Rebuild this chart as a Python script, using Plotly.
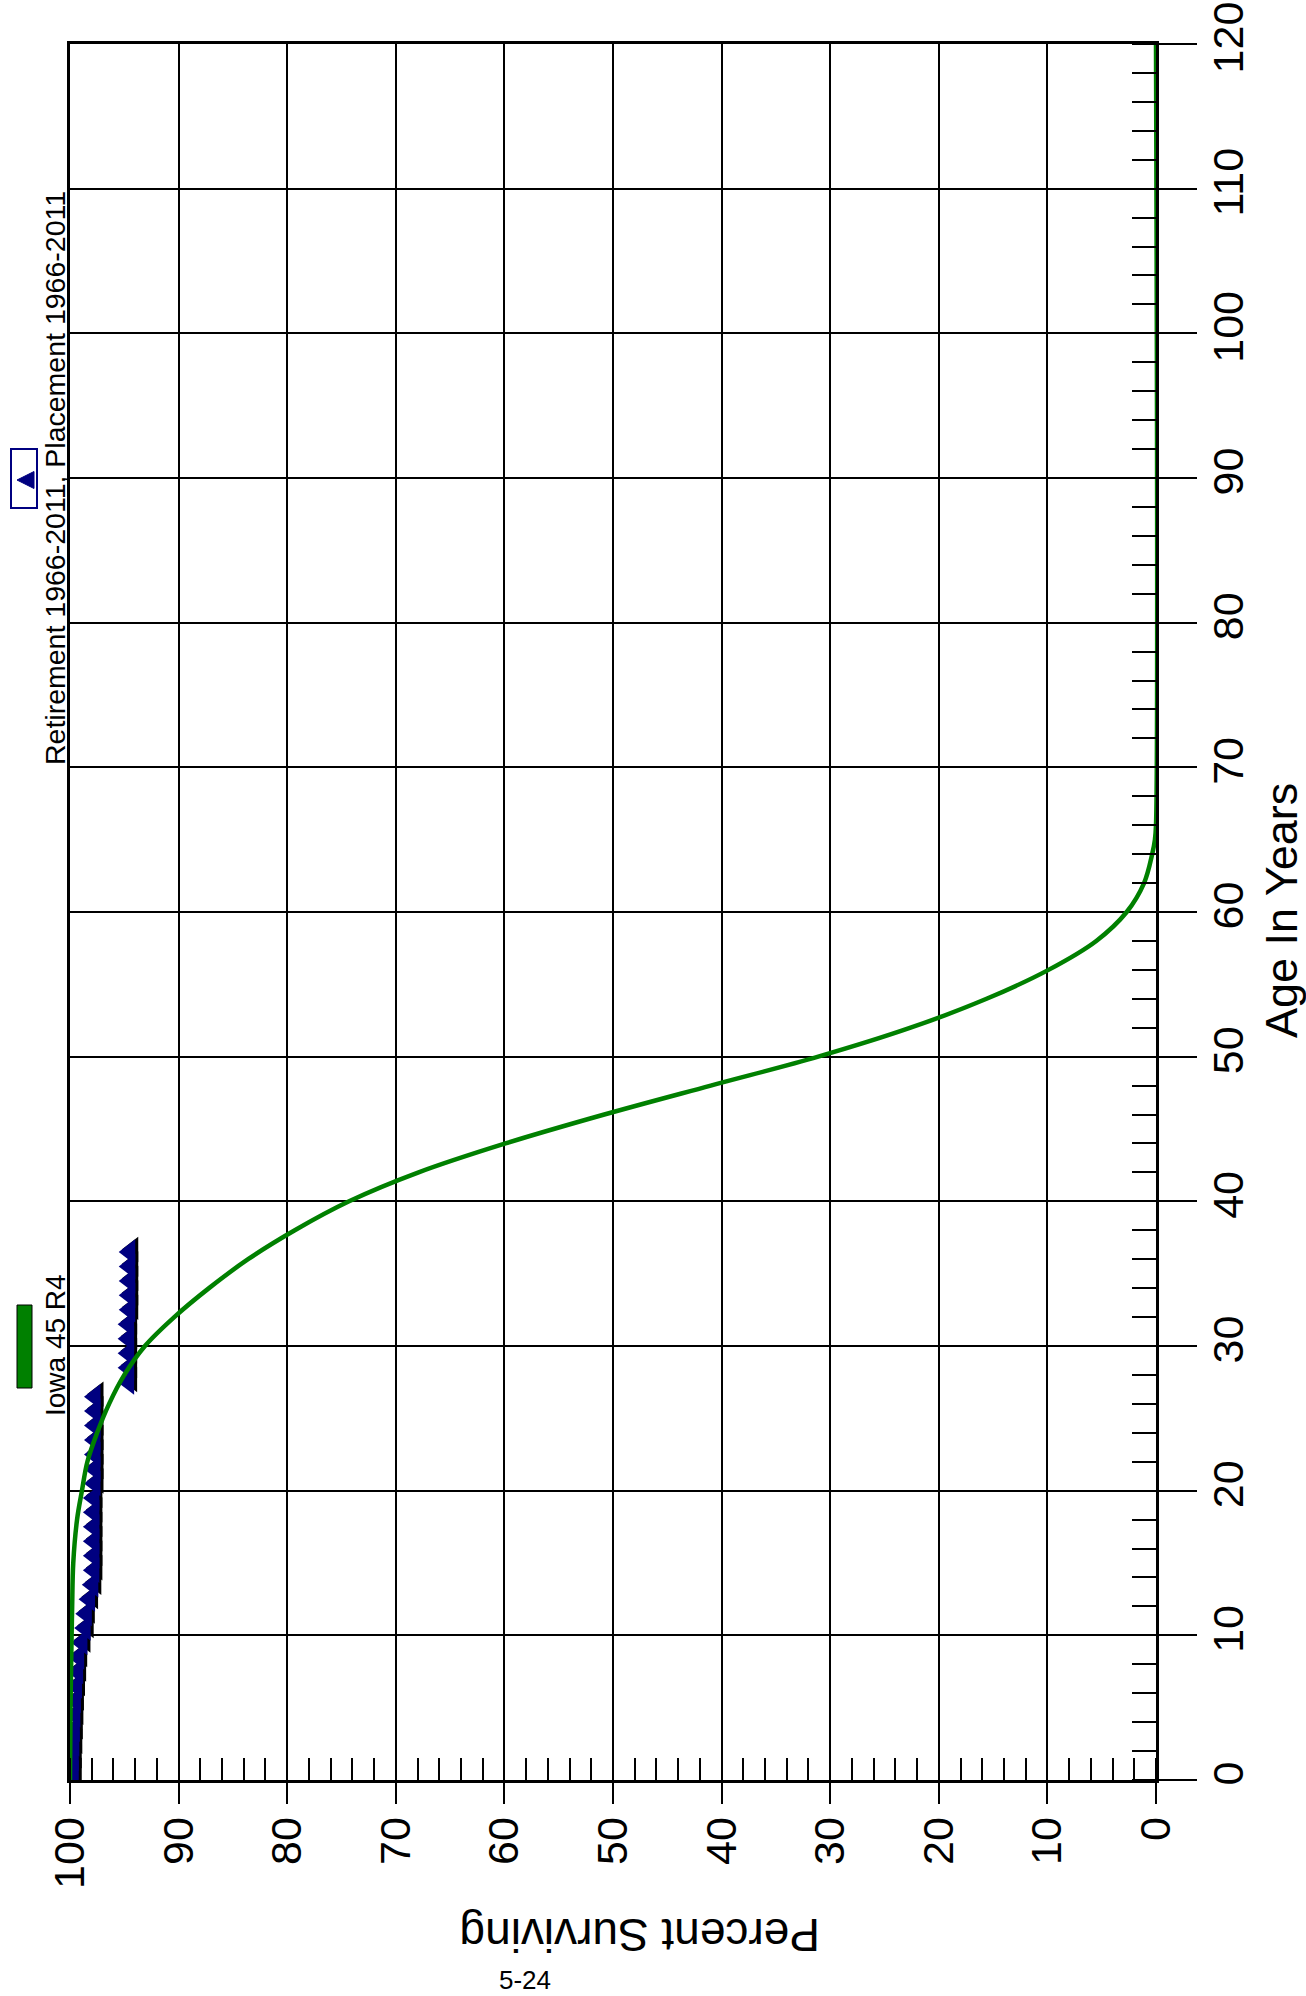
import plotly.graph_objects as go

# ---------------- data ----------------
# Iowa 45 R4 survivor curve (age in years, percent surviving)
curve_age = [0, 5, 10, 12, 15, 18, 20, 22, 24, 26, 28, 30, 32, 34, 36, 38, 40,
             42, 44, 46, 48, 50, 52, 54, 56, 58, 60, 62, 64, 65, 66, 120]
curve_pct = [100, 99.95, 99.85, 99.8, 99.7, 99.35, 98.9, 98.4, 97.5, 96.4, 95.0,
             93.1, 90.4, 87.2, 83.6, 79.3, 74.3, 67.9, 59.9, 50.8, 41.0, 31.1,
             22.6, 15.6, 9.9, 5.5, 2.7, 1.1, 0.35, 0.1, 0.0, 0.0]

# Observed life table: Retirement 1966-2011, Placement 1966-2011
obs_age = [0, 0.5, 1.5, 2.5, 3.5, 4.5, 5.5, 6.5, 7.5, 8.5, 9.5, 10.5, 11.5, 12.5,
           13.5, 14.5, 15.5, 16.5, 17.5, 18.5, 19.5, 20.5, 21.5, 22.5, 23.5, 24.5,
           25.5, 26.5, 27.5, 28.5, 29.5, 30.5, 31.5, 32.5, 33.5, 34.5, 35.5, 36.5]
obs_pct = [100, 99.7, 99.7, 99.65, 99.6, 99.55, 99.5, 99.4, 99.3, 99.2, 98.9, 98.6,
           98.5, 98.2, 97.9, 97.8, 97.8, 97.8, 97.8, 97.8, 97.8, 97.7, 97.7, 97.7,
           97.7, 97.7, 97.7, 97.7, 94.6, 94.6, 94.6, 94.6, 94.6, 94.5, 94.5, 94.5,
           94.5, 94.5]

pct_ticks = [100, 90, 80, 70, 60, 50, 40, 30, 20, 10, 0]
age_ticks = [0, 10, 20, 30, 40, 50, 60, 70, 80, 90, 100, 110, 120]

curve_name = "Iowa 45 R4"
obs_name = "Retirement 1966-2011, Placement 1966-2011"
x_title = "Percent Surviving"
y_title = "Age In Years"
page_no = "5-24"

# ---------------- layout geometry ----------------
FW, FH = 1306, 1996
L, R, T, B = 70, 1156, 44, 1780
PW, PH = R - L, B - T
FONT = "Liberation Sans, Arial, sans-serif"
NAVY = "#000080"
GREEN = "#008000"


def xp(px):
    return (px - L) / PW


def yp(py):
    return (B - py) / PH


# pixel offset of the marker drop shadow
sx = 3.0 / (PW / 100.0)
sy = 2.5 / (PH / 120.0)

fig = go.Figure()

# empty trace so that the main axes (grid, ticks, frame) are drawn
fig.add_trace(go.Scatter(x=[], y=[], xaxis="x", yaxis="y", mode="markers",
                         hoverinfo="skip", showlegend=False))
# shadow of markers
fig.add_trace(go.Scatter(
    x=obs_pct, y=obs_age, xaxis="x2", yaxis="y2", mode="markers",
    marker=dict(symbol="triangle-left", size=22, color="black", line=dict(width=0)),
    hoverinfo="skip", showlegend=False))
# markers
fig.add_trace(go.Scatter(
    x=obs_pct, y=obs_age, xaxis="x3", yaxis="y3", mode="markers", name=obs_name,
    marker=dict(symbol="triangle-left", size=22, color=NAVY, line=dict(width=0)),
    showlegend=False))
# curve
fig.add_trace(go.Scatter(
    x=curve_pct, y=curve_age, xaxis="x3", yaxis="y3", mode="lines", name=curve_name,
    line=dict(color=GREEN, width=4.5, shape="spline", smoothing=1.0),
    showlegend=False))

axis_common = dict(
    showgrid=True, gridcolor="black", gridwidth=2,
    showline=True, linecolor="black", linewidth=3, mirror=True,
    zeroline=False, ticks="outside", tickcolor="black", tickwidth=2,
    tickangle=-90, tickfont=dict(family=FONT, size=43, color="black"),
    automargin=False,
)

fig.update_layout(
    width=FW, height=FH, autosize=False,
    margin=dict(l=L, r=FW - R, t=T, b=FH - B, pad=0),
    paper_bgcolor="white", plot_bgcolor="white",
    font=dict(family=FONT, color="black"),
    showlegend=False,
    xaxis=dict(range=[100, 0], tickmode="array", tickvals=pct_ticks,
               ticktext=[str(v) for v in pct_ticks], ticklen=21,
               minor=dict(dtick=2, tick0=0, ticks="inside", ticklen=22, tickwidth=2,
                          tickcolor="black", showgrid=False),
               ticklabelstandoff=-4, **axis_common),
    yaxis=dict(range=[0, 120], side="right", tickmode="array", tickvals=age_ticks,
               ticktext=[str(v) for v in age_ticks], ticklen=38,
               minor=dict(dtick=2, tick0=0, ticks="inside", ticklen=24, tickwidth=2,
                          tickcolor="black", showgrid=False),
               ticklabelstandoff=-6, **axis_common),
    xaxis2=dict(range=[100 + sx, 0 + sx], overlaying="x", anchor="y2", visible=False),
    yaxis2=dict(range=[0 - sy, 120 - sy], overlaying="y", anchor="x2", visible=False),
    xaxis3=dict(range=[100, 0], overlaying="x", anchor="y3", visible=False),
    yaxis3=dict(range=[0, 120], overlaying="y", anchor="x3", visible=False),
)

ann = [
    dict(text=y_title, x=xp(1281), y=yp(911), textangle=-90,
         font=dict(family=FONT, size=45, color="black")),
    dict(text=x_title, x=xp(640), y=yp(1935), textangle=180,
         font=dict(family=FONT, size=46, color="black")),
    dict(text=page_no, x=xp(525), y=yp(1980), textangle=0,
         font=dict(family="Liberation Sans Narrow, " + FONT, size=26, color="black")),
    dict(text=curve_name, x=xp(55), y=yp(1345), textangle=-90,
         font=dict(family=FONT, size=28, color="black")),
    dict(text=obs_name, x=xp(55), y=yp(478), textangle=-90,
         font=dict(family=FONT, size=28.5, color="black")),
]
for a in ann:
    a.update(xref="paper", yref="paper", showarrow=False,
             xanchor="center", yanchor="middle")
fig.update_layout(annotations=ann)

shapes = [
    # legend swatch for the curve
    dict(type="rect", xref="paper", yref="paper",
         x0=xp(17), x1=xp(32), y0=yp(1388), y1=yp(1305),
         fillcolor=GREEN, line=dict(color="black", width=1)),
    # legend box for observed points
    dict(type="rect", xref="paper", yref="paper",
         x0=xp(11), x1=xp(37), y0=yp(508), y1=yp(449),
         fillcolor="white", line=dict(color=NAVY, width=2)),
    dict(type="path", xref="paper", yref="paper",
         path="M {} {} L {} {} L {} {} Z".format(xp(17), yp(480), xp(34), yp(471.5),
                                                xp(34), yp(488.5)),
         fillcolor=NAVY, line=dict(color=NAVY, width=1)),
]
fig.update_layout(shapes=shapes)

fig.write_html("out.html", include_plotlyjs=True, full_html=True,
               config={"displayModeBar": False},
               post_script="document.body.style.margin='0';")
